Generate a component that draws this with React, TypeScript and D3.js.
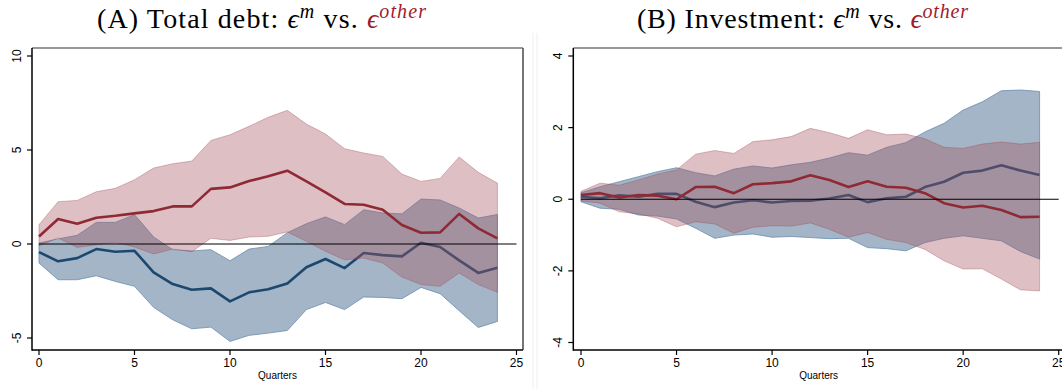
import React from "react";
import * as d3 from "d3";

// Horizon in quarters
const quarters = [0, 1, 2, 3, 4, 5, 6, 7, 8, 9, 10, 11, 12, 13, 14, 15, 16, 17, 18, 19, 20, 21, 22, 23, 24];

// Panel A: total debt responses
const debtOtherMid = [0.40, 1.33, 1.08, 1.40, 1.50, 1.63, 1.75, 2.00, 2.00, 2.93, 3.01, 3.35, 3.60, 3.90, 3.33, 2.75, 2.13, 2.09, 1.82, 1.01, 0.60, 0.62, 1.60, 0.83, 0.30];
const debtOtherHi = [1.03, 2.25, 2.32, 2.78, 2.96, 3.42, 4.04, 4.27, 4.41, 5.51, 5.81, 6.26, 6.74, 7.11, 6.38, 5.85, 5.07, 4.84, 4.66, 3.72, 3.33, 3.49, 4.63, 3.81, 3.24];
const debtOtherLo = [-0.10, 0.32, -0.18, -0.04, 0.09, -0.16, -0.53, -0.27, -0.41, 0.30, 0.19, 0.37, 0.41, 0.64, 0.14, -0.39, -0.84, -0.75, -1.01, -1.76, -2.16, -2.25, -1.54, -2.16, -2.57];
const debtMMid = [-0.43, -0.92, -0.75, -0.27, -0.41, -0.36, -1.51, -2.13, -2.43, -2.36, -3.05, -2.57, -2.41, -2.10, -1.24, -0.80, -1.28, -0.48, -0.59, -0.66, 0.07, -0.16, -0.87, -1.54, -1.26];
const debtMHi = [0.05, 0.27, 0.46, 1.15, 1.15, 1.56, 0.37, -0.30, -0.37, -0.30, -0.89, -0.27, -0.13, 0.60, 1.08, 1.44, 1.03, 1.82, 1.65, 1.60, 2.39, 2.34, 1.91, 1.38, 1.57];
const debtMLo = [-1.01, -1.90, -1.90, -1.69, -1.99, -2.25, -3.37, -4.03, -4.51, -4.42, -5.18, -4.86, -4.74, -4.60, -3.49, -3.11, -3.49, -2.82, -2.84, -2.91, -2.31, -2.64, -3.55, -4.44, -4.12];

// Panel B: investment responses
const invOtherMid = [0.12, 0.17, 0.05, 0.12, 0.10, 0.00, 0.34, 0.35, 0.17, 0.42, 0.45, 0.50, 0.67, 0.54, 0.34, 0.50, 0.35, 0.32, 0.17, -0.11, -0.23, -0.18, -0.30, -0.50, -0.49];
const invOtherHi = [0.22, 0.45, 0.39, 0.54, 0.70, 0.82, 1.26, 1.36, 1.28, 1.61, 1.66, 1.75, 1.98, 1.86, 1.70, 1.94, 1.80, 1.82, 1.69, 1.45, 1.42, 1.54, 1.60, 1.54, 1.59];
const invOtherLo = [-0.05, -0.11, -0.35, -0.41, -0.53, -0.77, -0.63, -0.69, -0.95, -0.78, -0.74, -0.75, -0.66, -0.84, -1.06, -0.93, -1.12, -1.21, -1.40, -1.72, -1.95, -1.94, -2.23, -2.53, -2.56];
const invMMid = [0.07, 0.03, 0.11, 0.07, 0.15, 0.15, -0.07, -0.22, -0.09, -0.03, -0.09, -0.05, -0.04, 0.02, 0.12, -0.08, 0.03, 0.07, 0.34, 0.49, 0.74, 0.80, 0.95, 0.80, 0.68];
const invMHi = [0.18, 0.35, 0.49, 0.63, 0.77, 0.88, 0.74, 0.65, 0.84, 0.93, 0.87, 0.96, 1.03, 1.15, 1.30, 1.23, 1.45, 1.58, 1.88, 2.12, 2.49, 2.72, 3.03, 3.05, 3.01];
const invMLo = [-0.07, -0.25, -0.28, -0.44, -0.47, -0.55, -0.81, -1.09, -1.00, -0.97, -1.06, -1.04, -1.07, -1.10, -1.09, -1.35, -1.38, -1.44, -1.21, -1.09, -1.02, -1.09, -1.16, -1.46, -1.67];

const xTicks = [0, 5, 10, 15, 20, 25];
const debtYTicks = [-5, 0, 5, 10];
const invYTicks = [-4, -2, 0, 2, 4];
const xLabel = "Quarters";

const BLUE_LINE = "#1c4870";
const BLUE_FILL = "#a3b5c6";
const BLUE_EDGE = "#6a8db0";
const RED_LINE = "#8f2a35";
const RED_FILL = "rgba(165,88,100,0.38)";
const RED_EDGE = "rgba(160,70,85,0.45)";
const TITLE_RED = "#a01c2c";

type PanelProps = {
  frame: { left: number; right: number; top: number; bottom: number };
  xRange: [number, number];
  yDomain: [number, number];
  yRange: [number, number];
  yTicks: number[];
  mMid: number[]; mHi: number[]; mLo: number[];
  oMid: number[]; oHi: number[]; oLo: number[];
};

function Panel(p: PanelProps) {
  const x = d3.scaleLinear().domain([0, 25]).range(p.xRange);
  const y = d3.scaleLinear().domain(p.yDomain).range(p.yRange);
  const band = (hi: number[], lo: number[]) =>
    d3.area<number>().x((q) => x(q)).y0((_, i) => y(lo[i])).y1((_, i) => y(hi[i]))(quarters) || "";
  const line = (v: number[]) =>
    d3.line<number>().x((q) => x(q)).y((_, i) => y(v[i]))(quarters) || "";
  const { left, right, top, bottom } = p.frame;
  const sans = "'Liberation Sans', Arial, sans-serif";
  return (
    <g>
      {/* plot region border */}
      <line x1={left} x2={right} y1={top} y2={top} stroke="#333" strokeWidth={1.2} />
      <line x1={right} x2={right} y1={top} y2={bottom} stroke="#666" strokeWidth={1.8} />
      <defs>
        <clipPath id={`clip-${left}`}>
          <rect x={left} y={top} width={right - left} height={bottom - top} />
        </clipPath>
      </defs>
      <g clipPath={`url(#clip-${left})`}>
        <path d={band(p.mHi, p.mLo)} fill={BLUE_FILL} stroke={BLUE_EDGE} strokeWidth={0.8} />
        <path d={line(p.mMid)} fill="none" stroke={BLUE_LINE} strokeWidth={2.6} strokeLinejoin="round" />
        <path d={band(p.oHi, p.oLo)} fill={RED_FILL} stroke={RED_EDGE} strokeWidth={0.8} />
        <path d={line(p.oMid)} fill="none" stroke={RED_LINE} strokeWidth={2.6} strokeLinejoin="round" />
        <line x1={x(0)} x2={x(25)} y1={y(0)} y2={y(0)} stroke="#000" strokeWidth={1} />
      </g>
      {/* axes */}
      <line x1={left} x2={left} y1={top} y2={bottom + 0.75} stroke="#000" strokeWidth={1.5} />
      <line x1={left} x2={right} y1={bottom} y2={bottom} stroke="#000" strokeWidth={1.5} />
      {p.yTicks.map((t) => (
        <g key={`y${t}`}>
          <line x1={left - 5} x2={left} y1={y(t)} y2={y(t)} stroke="#000" strokeWidth={1.2} />
          <text
            transform={`translate(${left - 11.5},${y(t)}) rotate(-90)`}
            textAnchor="middle"
            fontFamily={sans}
            fontSize={12}
            fill="#000"
          >
            {t}
          </text>
        </g>
      ))}
      {xTicks.map((t) => (
        <g key={`x${t}`}>
          <line x1={x(t)} x2={x(t)} y1={bottom} y2={bottom + 5} stroke="#000" strokeWidth={1.2} />
          <text x={x(t)} y={bottom + 17.3} textAnchor="middle" fontFamily={sans} fontSize={12} fill="#000">
            {t}
          </text>
        </g>
      ))}
      <text x={(left + right) / 2} y={bottom + 29} textAnchor="middle" fontFamily={sans} fontSize={10} fill="#000">
        {xLabel}
      </text>
    </g>
  );
}

function Title({ cx, lead, width }: { cx: number; lead: string; width: number }) {
  const serif = "'Liberation Serif', 'Times New Roman', serif";
  return (
    <text
      x={cx}
      y={27.5}
      textAnchor="middle"
      fontFamily={serif}
      fontSize={28}
      fill="#000"
      textLength={width}
      lengthAdjust="spacing"
    >
      <tspan>{lead} </tspan>
      <tspan fontStyle="italic">ϵ</tspan>
      <tspan fontStyle="italic" fontSize={20} dy={-10}>m</tspan>
      <tspan dy={10}> vs. </tspan>
      <tspan fontStyle="italic" fill={TITLE_RED}>ϵ</tspan>
      <tspan fontStyle="italic" fontSize={20} dy={-10} fill={TITLE_RED}>other</tspan>
    </text>
  );
}

export default function App() {
  return (
    <svg
      width={1062}
      height={389}
      viewBox="0 0 1062 389"
      style={{ position: "absolute", left: 0, top: 0, background: "#fff", display: "block" }}
    >
      <rect x={0} y={0} width={1062} height={389} fill="#fff" />
      <line x1={533} x2={533} y1={33} y2={389} stroke="#eeeeee" strokeWidth={1} />
      <line x1={537} x2={537} y1={33} y2={389} stroke="#eeeeee" strokeWidth={1} />
      <Title cx={261.5} lead="(A) Total debt:" width={329} />
      <Title cx={802.5} lead="(B) Investment:" width={331} />
      <Panel
        frame={{ left: 32, right: 523, top: 48, bottom: 350 }}
        xRange={[39, 516.5]}
        yDomain={[-5, 10]}
        yRange={[338, 56]}
        yTicks={debtYTicks}
        mMid={debtMMid} mHi={debtMHi} mLo={debtMLo}
        oMid={debtOtherMid} oHi={debtOtherHi} oLo={debtOtherLo}
      />
      <Panel
        frame={{ left: 573.3, right: 1064, top: 48, bottom: 350 }}
        xRange={[581, 1058.7]}
        yDomain={[-4, 4]}
        yRange={[342.5, 56]}
        yTicks={invYTicks}
        mMid={invMMid} mHi={invMHi} mLo={invMLo}
        oMid={invOtherMid} oHi={invOtherHi} oLo={invOtherLo}
      />
    </svg>
  );
}
